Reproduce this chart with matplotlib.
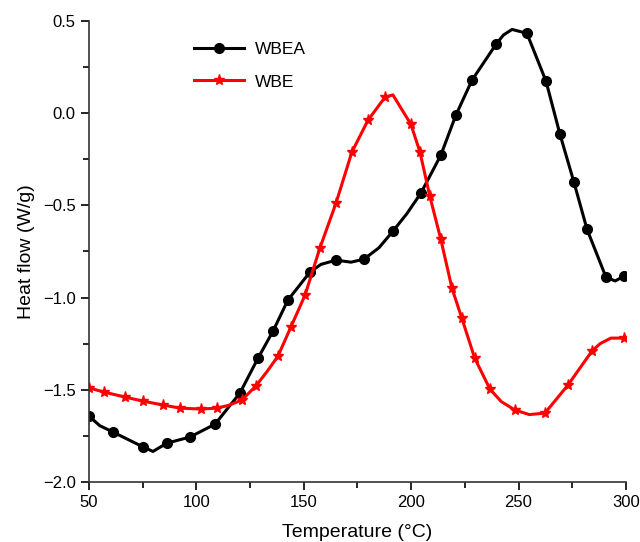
import matplotlib
matplotlib.use("Agg")
import matplotlib.pyplot as plt
from matplotlib.ticker import MultipleLocator

plt.rcParams["font.family"] = ["Liberation Sans", "DejaVu Sans"]

# WBEA trace (black)
wbea_t = [50, 55, 61.2, 75.1, 79.8, 86.3, 97, 108.7, 120.3, 128.7, 135.7, 142.6,
          152.9, 158, 165, 172, 178, 185, 191.5, 198, 204.5, 213.8, 220.8, 228.3,
          239.5, 243, 247, 253.9, 262.8, 269.3, 275.8, 281.9, 290.7, 295, 299]
wbea_hf = [-1.643, -1.695, -1.73, -1.81, -1.835, -1.79, -1.757, -1.687, -1.518,
           -1.329, -1.182, -1.014, -0.862, -0.82, -0.797, -0.808, -0.792, -0.73,
           -0.64, -0.545, -0.434, -0.228, -0.011, 0.179, 0.374, 0.425, 0.455, 0.434,
           0.174, -0.114, -0.374, -0.63, -0.889, -0.91, -0.884]
# temperatures where the WBEA curve carries a circle marker
wbea_mark_t = [50, 61.2, 75.1, 86.3, 97, 108.7, 120.3, 128.7, 135.7, 142.6, 152.9,
               165, 178, 191.5, 204.5, 213.8, 220.8, 228.3, 239.5, 253.9, 262.8,
               269.3, 275.8, 281.9, 290.7, 299]

# WBE trace (red)
wbe_t = [50, 57, 66.8, 75.1, 84.4, 92.4, 102.1, 109.6, 115, 121.2, 127.7, 133,
         138, 144, 150.6, 157.5, 165, 172.4, 179.9, 187.8, 191.5, 199.9, 204.1,
         208.7, 213.8, 219, 223.6, 229.6, 236.7, 242, 248.3, 255, 262.3, 273, 284.2,
         288, 293, 299]
wbe_hf = [-1.49, -1.513, -1.54, -1.562, -1.583, -1.60, -1.605, -1.60, -1.585,
          -1.556, -1.48, -1.40, -1.318, -1.16, -0.987, -0.732, -0.488, -0.211,
          -0.038, 0.087, 0.1, -0.06, -0.21, -0.45, -0.683, -0.949, -1.112, -1.329,
          -1.497, -1.565, -1.61, -1.635, -1.627, -1.475, -1.29, -1.25, -1.22, -1.22]
wbe_mark_t = [50, 57, 66.8, 75.1, 84.4, 92.4, 102.1, 109.6, 121.2, 127.7, 138, 144,
              150.6, 157.5, 165, 172.4, 179.9, 187.8, 199.9, 204.1, 208.7, 213.8,
              219, 223.6, 229.6, 236.7, 248.3, 262.3, 273, 284.2, 299]

fig = plt.figure(figsize=(6.4, 5.42), dpi=100)
ax = fig.add_axes([0.139, 0.111, 0.839, 0.850])

ax.plot(wbea_t, wbea_hf, "-o", color="black", lw=2.2, ms=7,
        markevery=[wbea_t.index(t) for t in wbea_mark_t], label="WBEA")
ax.plot(wbe_t, wbe_hf, "-*", color="#ff0000", lw=2.2, ms=8,
        markevery=[wbe_t.index(t) for t in wbe_mark_t], label="WBE")

ax.set_xlim(50, 300)
ax.set_ylim(-2.0, 0.5)
ax.xaxis.set_major_locator(MultipleLocator(50))
ax.xaxis.set_minor_locator(MultipleLocator(25))
ax.yaxis.set_major_locator(MultipleLocator(0.5))
ax.yaxis.set_minor_locator(MultipleLocator(0.25))
ax.tick_params(which="major", direction="out", length=6, width=1.2, labelsize=12)
ax.tick_params(which="minor", direction="out", length=4, width=1.2)
for side in ("top", "right"):
    ax.spines[side].set_visible(False)
for side in ("left", "bottom"):
    ax.spines[side].set_linewidth(1.2)
    ax.spines[side].set_color("#333333")

ax.set_xlabel("Temperature (\u00b0C)", fontsize=14, labelpad=10)
ax.set_ylabel("Heat flow (W/g)", fontsize=14, labelpad=6)

ax.legend(loc="upper left", bbox_to_anchor=(0.195, 0.955), frameon=False,
          fontsize=12.5, handlelength=2.9, labelspacing=1.0, borderpad=0,
          borderaxespad=0, handletextpad=0.6)

fig.savefig("out.png", dpi=100)
